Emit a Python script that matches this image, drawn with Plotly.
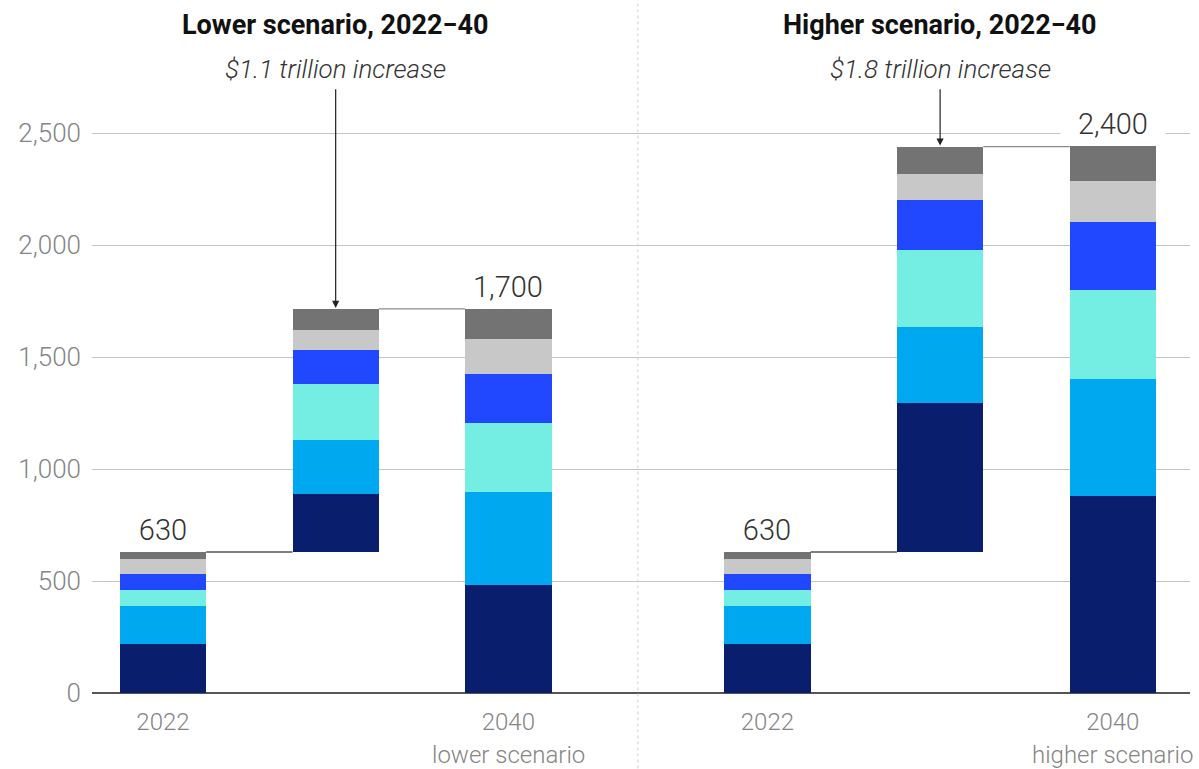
import plotly.graph_objects as go

# ---------------- data ----------------
periods = ["2022", "Increase, lower", "2040, lower", "2022", "Increase, higher", "2040, higher"]
tick_labels = ["2022", "", "2040", "2022", "", "2040"]
sub_labels = ["", "", "lower scenario", "", "", "higher scenario"]
total_labels = ["630", "", "1,700", "630", "", "2,400"]

seg_a = [221, 261, 483, 221, 664, 881]   # navy (bottom)
seg_b = [168, 239, 415, 168, 342, 522]   # sky blue
seg_c = [69, 252, 308, 69, 343, 399]     # turquoise
seg_d = [73, 149, 221, 73, 224, 301]     # electric blue
seg_e = [66, 89, 155, 66, 116, 184]      # light gray
seg_f = [33, 96, 134, 33, 122, 156]      # dark gray (top)

panel_titles = ["Lower scenario, 2022\u221240", "Higher scenario, 2022\u221240"]
increase_labels = ["$1.1 trillion increase", "$1.8 trillion increase"]

y_ticks = [0, 500, 1000, 1500, 2000, 2500]
y_tick_text = ["0", "500", "1,000", "1,500", "2,000", "2,500"]

# ---------------- layout / style ----------------
slot = [0, 1, 2, 3.5, 4.5, 5.5]
bar_w = 0.5
colors = ["#0A1E6E", "#00A8F0", "#74EEE2", "#2148FF", "#C8C8C8", "#737373"]
series = [seg_a, seg_b, seg_c, seg_d, seg_e, seg_f]

PLOT_H = 582
Y_MAX = 2600
ZERO_PX = 693.3
px_per_unit = PLOT_H / Y_MAX

totals = [sum(s[i] for s in series) for i in range(len(periods))]
# increase bars float on top of the preceding 2022 bar
start = [0.0] * len(periods)
start[1] = totals[0]
start[4] = totals[3]
tops = [start[i] + totals[i] for i in range(len(periods))]

fig = go.Figure()
running = list(start)
for vals, col in zip(series, colors):
    fig.add_trace(go.Bar(
        x=slot, y=vals, base=list(running), width=bar_w,
        marker=dict(color=col, line=dict(width=0)),
        hoverinfo="y", showlegend=False,
    ))
    running = [running[i] + vals[i] for i in range(len(vals))]

label_font = dict(family="Roboto", size=29, color="#333333", weight=300)
xtick_font = dict(family="Roboto", size=24, color="#858585", weight=300)
ytick_font = dict(family="Roboto", size=26, color="#858585", weight=300)


def paper_y(px):
    return (ZERO_PX - px) / PLOT_H


annotations = []
# value labels above totals
for i, t in enumerate(total_labels):
    if t:
        annotations.append(dict(
            x=slot[i], y=tops[i], xref="x", yref="y", text=t, showarrow=False,
            yanchor="bottom", yshift=4, font=label_font,
            bgcolor="white", width=104, borderpad=0,
        ))
# second line of x labels
for i, t in enumerate(sub_labels):
    if t:
        annotations.append(dict(
            x=slot[i], y=paper_y(755), xref="x", yref="paper", text=t, showarrow=False,
            yanchor="middle", font=xtick_font,
        ))
# panel titles + increase labels + arrows
for k, mid in enumerate([1, 4]):
    annotations.append(dict(
        x=slot[mid], y=paper_y(25), xref="x", yref="paper",
        text="<b>" + panel_titles[k] + "</b>", showarrow=False, yanchor="middle",
        font=dict(family="Roboto", size=27, color="#111111"),
    ))
    annotations.append(dict(
        x=slot[mid], y=paper_y(69), xref="x", yref="paper",
        text="<i>" + increase_labels[k] + "</i>", showarrow=False, yanchor="middle",
        font=dict(family="Roboto", size=26, color="#333333", weight=300),
    ))
    top_px = ZERO_PX - tops[mid] * px_per_unit
    annotations.append(dict(
        x=slot[mid], y=tops[mid], xref="x", yref="y", text="", showarrow=True,
        ax=0, ay=-(top_px - 88), arrowhead=2, arrowsize=1.2,
        arrowwidth=1.2, arrowcolor="#222222", standoff=1,
    ))

shapes = []
# connectors
for i in [0, 3]:
    shapes.append(dict(type="line", xref="x", yref="y",
                       x0=slot[i] + bar_w / 2, x1=slot[i + 1] - bar_w / 2,
                       y0=tops[i], y1=tops[i], line=dict(color="#555555", width=1.5)))
for i in [1, 4]:
    shapes.append(dict(type="line", xref="x", yref="y",
                       x0=slot[i] + bar_w / 2, x1=slot[i + 1] - bar_w / 2,
                       y0=tops[i], y1=tops[i], line=dict(color="#8A8A8A", width=1.2)))
# dotted separator between panels
shapes.append(dict(type="line", xref="x", yref="paper",
                   x0=(slot[2] + slot[3]) / 2, x1=(slot[2] + slot[3]) / 2,
                   y0=-0.14, y1=1.2, line=dict(color="#CFCFCF", width=1, dash="dot")))

fig.update_layout(
    width=1199, height=769,
    margin=dict(l=92, r=9, t=111, b=76),
    paper_bgcolor="white", plot_bgcolor="white",
    barmode="overlay", bargap=0,
    annotations=annotations, shapes=shapes,
    font=dict(family="Roboto"),
)
fig.update_xaxes(
    range=[-0.411, 5.947], tickvals=slot, ticktext=tick_labels,
    tickfont=xtick_font, showgrid=False, zeroline=False, showline=False,
    ticks="", ticklabelstandoff=12, automargin=False,
)
fig.update_yaxes(
    range=[0, Y_MAX], tickvals=y_ticks, ticktext=y_tick_text,
    tickfont=ytick_font, showgrid=True, gridcolor="#C4C4C4", gridwidth=1,
    zeroline=True, zerolinecolor="#555555", zerolinewidth=2,
    showline=False, ticks="", ticklabelstandoff=10, automargin=False,
)

fig.write_html("out.html")
